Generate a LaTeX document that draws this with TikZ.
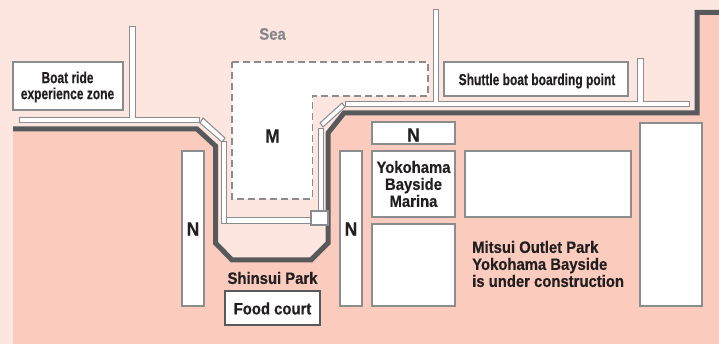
\documentclass[tikz,border=0pt]{standalone}
\usepackage{fontspec}
\newfontfamily\narrowf{Liberation Sans Bold}[FakeStretch=0.75,FakeBold=0.4]
\newfontfamily\widef{Liberation Sans Bold}[FakeStretch=0.9,FakeBold=0.4]
\definecolor{sea}{HTML}{FDE5E0}
\definecolor{land}{HTML}{FBCBBE}
\definecolor{coast}{HTML}{58595B}
\definecolor{edge}{HTML}{8A8C8E}
\definecolor{ink}{HTML}{231F20}
\definecolor{seatext}{HTML}{858688}
\tikzset{
  x=1pt,y=-1pt,
  plot/.style={draw=edge,fill=white,line width=1.1pt},
  pier/.style={draw=edge,fill=white,line width=1pt},
  lab/.style={text=ink,align=center,inner sep=0pt,font=\fontsize{16}{16}\selectfont\narrowf},
  labwide/.style={text=ink,align=center,inner sep=0pt,font=\fontsize{16.5}{17}\selectfont\widef},
  labbig/.style={text=ink,align=center,inner sep=0pt,font=\fontsize{19}{19}\selectfont\widef},
}
\begin{document}
\begin{tikzpicture}
\useasboundingbox (0,0) rectangle (719,344);
\fill[sea] (0,0) rectangle (719,344);
% land
\fill[land] (13,129) -- (197,129) -- (215.5,146) -- (215.5,243) -- (232,260) -- (311,260) -- (328,243) -- (328,133) -- (344,113) -- (697,113) -- (697,12.5) -- (719,12.5) -- (719,344) -- (13,344) -- cycle;
\draw[coast,line width=5pt,miter limit=4] (13,129) -- (197,129) -- (215.5,146) -- (215.5,243) -- (232,260) -- (311,260) -- (328,243) -- (328,133) -- (344,113) -- (697,113) -- (697,12.5) -- (719,12.5);
% M area
\draw[draw=edge,fill=white,line width=1.2pt,dash pattern=on 7pt off 4pt] (232,62) -- (428,62) -- (428,96) -- (312.5,96) -- (312.5,199) -- (232,199) -- cycle;
% piers
\draw[pier] (19,117.5) -- (129.5,117.5) -- (129.5,27) -- (135,27) -- (135,117.5) -- (199,117.5) -- (199,123) -- (19,123) -- cycle;
\draw[pier] (203,118) -- (225,138) -- (222,142) -- (200,123) -- cycle;
\draw[pier] (221,142) -- (226.5,142) -- (226.5,217.5) -- (312,217.5) -- (312,224) -- (221,224) -- cycle;
\draw[pier] (226.5,217.5) -- (226.5,224);
\draw[pier] (318,129) -- (323,129) -- (323,212) -- (318,212) -- cycle;
\draw[pier] (342,103) -- (345,107) -- (323,127) -- (320,123) -- cycle;
\draw[pier] (345,102) -- (433,102) -- (433,9.5) -- (438.5,9.5) -- (438.5,102) -- (637,102) -- (637,59) -- (643,59) -- (643,102) -- (689,102) -- (689,107) -- (345,107) -- cycle;
\draw[pier,line width=1.2pt] (311,211) rectangle (328,225);
% plots
\draw[plot] (13,62) rectangle (123,110);
\draw[plot] (444,62) rectangle (628,96);
\draw[plot] (182,151) rectangle (204,306);
\draw[plot] (340,151) rectangle (362,306);
\draw[plot] (372,122) rectangle (455,144);
\draw[plot] (372,151) rectangle (455,217);
\draw[plot] (465,151) rectangle (631,217);
\draw[plot] (372,224) rectangle (455,306);
\draw[plot] (640,123) rectangle (702,306);
\draw[draw=coast,fill=white,line width=1.5pt] (225,291) rectangle (320,325);
% labels
\node[labwide,text=seatext] (sea) at (272.5,34) {Sea};
\node[lab] (boat) at (67.5,87) {Boat ride\\experience zone};
\node[lab] (shuttle) at (537,81) {Shuttle boat boarding point};
\node[labbig] (m) at (272.5,136) {M};
\node[labbig] (n1) at (193,229) {N};
\node[labbig] (n2) at (351,229) {N};
\node[labbig] (n3) at (413.5,135) {N};
\node[labwide] (marina) at (413.5,184) {Yokohama\\Bayside\\Marina};
\node[labwide,align=left,anchor=west] (outlet) at (472,264) {Mitsui Outlet Park\\Yokohama Bayside\\is under construction};
\node[labwide] (park) at (272.5,278) {Shinsui Park};
\node[labwide] (food) at (272.5,308.5) {Food court};
\end{tikzpicture}
\end{document}
